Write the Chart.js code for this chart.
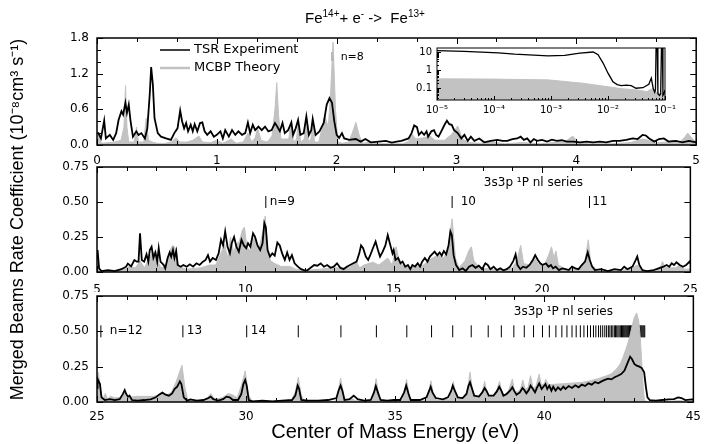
<!DOCTYPE html>
<html lang="en">
<head>
<meta charset="UTF-8">
<title>Fe14+ DR rate coefficient</title>
<script src="https://cdn.jsdelivr.net/npm/chart.js@4.4.1/dist/chart.umd.min.js"></script>
<style>
    body { margin: 0; background: #fff; }
    #wrap { position: relative; width: 709px; height: 444px; overflow: hidden; }
    #wrap canvas { position: absolute; left: 0; top: 0; }
    #title {
        position: absolute; left: 305px; top: 9px; white-space: nowrap;
        font: 15px "Liberation Sans", Arial, sans-serif; line-height: 18px; color: #000;
    }
    #title sup { font-size: 10px; vertical-align: 0; position: relative; top: -6px; }
</style>
</head>
<body>
<div id="wrap">
    <canvas id="c1" width="709" height="444"></canvas>
    <canvas id="c2" width="709" height="444"></canvas>
    <canvas id="c3" width="709" height="444"></canvas>
    <canvas id="c4" width="709" height="444"></canvas>
    <div id="title">Fe<sup>14+</sup>+ e<sup>-</sup> -&gt;&nbsp; Fe<sup>13+</sup></div>
</div>
<script>
// ---- data: [energy (eV), rate (1e-8 cm3/s)] ----
const expTop = [[0,0.2],[0.011,0.2],[0.033,0.11],[0.06,0.41],[0.074,0.11],[0.107,0.17],[0.135,0.085],[0.16,0.2],[0.18,0.42],[0.204,0.57],[0.218,0.51],[0.237,0.71],[0.25,0.54],[0.265,0.68],[0.28,0.40],[0.30,0.14],[0.328,0.23],[0.347,0.17],[0.37,0.2],[0.40,0.11],[0.42,0.28],[0.44,0.85],[0.452,1.31],[0.466,1.02],[0.48,0.45],[0.507,0.2],[0.534,0.14],[0.576,0.11],[0.617,0.085],[0.645,0.2],[0.672,0.28],[0.694,0.58],[0.71,0.4],[0.727,0.28],[0.744,0.37],[0.76,0.23],[0.782,0.34],[0.799,0.23],[0.815,0.35],[0.837,0.23],[0.86,0.37],[0.879,0.38],[0.898,0.23],[0.92,0.17],[0.948,0.23],[0.975,0.14],[1.0,0.17],[1.03,0.23],[1.05,0.11],[1.07,0.25],[1.1,0.14],[1.127,0.25],[1.154,0.17],[1.18,0.23],[1.21,0.17],[1.237,0.2],[1.259,0.38],[1.278,0.2],[1.3,0.34],[1.32,0.25],[1.347,0.31],[1.375,0.25],[1.402,0.31],[1.43,0.23],[1.457,0.25],[1.485,0.37],[1.504,0.31],[1.526,0.23],[1.548,0.37],[1.567,0.2],[1.595,0.25],[1.622,0.38],[1.636,0.17],[1.658,0.28],[1.678,0.42],[1.697,0.17],[1.725,0.2],[1.747,0.48],[1.768,0.17],[1.788,0.25],[1.8,0.44],[1.824,0.17],[1.856,0.23],[1.892,0.37],[1.917,0.68],[1.94,0.79],[1.961,0.71],[1.98,0.4],[2.0,0.17],[2.02,0.12],[2.044,0.2],[2.063,0.11],[2.105,0.085],[2.16,0.1],[2.2,0.057],[2.24,0.1],[2.284,0.045],[2.35,0.057],[2.41,0.07],[2.46,0.04],[2.5,0.057],[2.54,0.07],[2.6,0.11],[2.625,0.2],[2.647,0.33],[2.67,0.30],[2.686,0.17],[2.708,0.22],[2.73,0.17],[2.75,0.23],[2.763,0.14],[2.79,0.23],[2.812,0.25],[2.83,0.17],[2.85,0.14],[2.873,0.23],[2.9,0.34],[2.92,0.41],[2.94,0.35],[2.96,0.34],[2.98,0.25],[3.01,0.2],[3.04,0.11],[3.066,0.17],[3.094,0.07],[3.12,0.14],[3.149,0.07],[3.19,0.11],[3.231,0.045],[3.286,0.07],[3.341,0.085],[3.383,0.07],[3.424,0.07],[3.466,0.1],[3.507,0.11],[3.535,0.14],[3.562,0.085],[3.59,0.11],[3.617,0.045],[3.645,0.1],[3.672,0.07],[3.713,0.085],[3.755,0.057],[3.796,0.09],[3.838,0.07],[3.879,0.08],[3.92,0.057],[3.975,0.057],[4.03,0.045],[4.086,0.057],[4.14,0.045],[4.196,0.057],[4.25,0.045],[4.306,0.07],[4.36,0.07],[4.416,0.085],[4.47,0.11],[4.512,0.1],[4.553,0.17],[4.58,0.16],[4.608,0.11],[4.65,0.057],[4.69,0.1],[4.73,0.11],[4.77,0.057],[4.83,0.07],[4.884,0.045],[4.94,0.07],[5.0,0.045]];

const theoTop = [[0,0.05],[0.015,0.22],[0.03,0.05],[0.05,0.03],[0.1,0.04],[0.15,0.05],[0.2,0.08],[0.225,0.3],[0.238,1.0],[0.25,0.3],[0.265,0.05],[0.31,0.05],[0.33,0.3],[0.345,0.05],[0.39,0.05],[0.41,0.45],[0.43,0.08],[0.46,0.05],[0.5,0.03],[0.55,0.02],[0.62,0.05],[0.66,0.12],[0.69,0.05],[0.75,0.05],[0.8,0.08],[0.85,0.15],[0.88,0.05],[0.95,0.04],[1.0,0.08],[1.05,0.03],[1.12,0.1],[1.16,0.03],[1.22,0.05],[1.26,0.2],[1.29,0.05],[1.32,0.12],[1.34,0.28],[1.37,0.08],[1.42,0.05],[1.46,0.15],[1.485,0.6],[1.5,1.05],[1.515,0.5],[1.535,0.1],[1.56,0.1],[1.6,0.1],[1.62,0.38],[1.64,0.05],[1.665,0.1],[1.68,0.38],[1.7,0.05],[1.73,0.1],[1.748,0.5],[1.765,0.05],[1.785,0.1],[1.8,0.42],[1.815,0.05],[1.85,0.05],[1.88,0.3],[1.9,0.5],[1.93,0.3],[1.95,0.9],[1.97,1.73],[1.99,0.6],[2.01,0.05],[2.05,0.03],[2.1,0.05],[2.13,0.2],[2.16,0.38],[2.19,0.15],[2.22,0.03],[2.3,0.05],[2.35,0.02],[2.45,0.02],[2.55,0.02],[2.6,0.06],[2.63,0.18],[2.66,0.1],[2.72,0.12],[2.78,0.15],[2.82,0.08],[2.9,0.08],[2.96,0.18],[3.01,0.32],[3.05,0.1],[3.1,0.04],[3.2,0.03],[3.3,0.05],[3.4,0.02],[3.55,0.04],[3.7,0.02],[3.8,0.04],[3.9,0.05],[3.97,0.15],[4.02,0.04],[4.1,0.02],[4.3,0.02],[4.45,0.04],[4.55,0.1],[4.6,0.08],[4.65,0.03],[4.75,0.05],[4.8,0.08],[4.85,0.03],[4.9,0.12],[4.93,0.2],[4.97,0.1],[5.0,0.05]];

const expMid = [[5.0,0.1],[5.02,0.157],[5.07,0.026],[5.15,0.007],[5.37,0.014],[5.6,0.007],[5.82,0.02],[5.98,0.038],[6.04,0.06],[6.15,0.04],[6.26,0.085],[6.34,0.074],[6.4,0.074],[6.45,0.276],[6.51,0.085],[6.59,0.074],[6.67,0.126],[6.73,0.074],[6.78,0.157],[6.84,0.18],[6.9,0.1],[6.97,0.14],[7.03,0.074],[7.08,0.17],[7.14,0.074],[7.25,0.05],[7.3,0.026],[7.38,0.1],[7.45,0.14],[7.5,0.11],[7.56,0.157],[7.61,0.1],[7.67,0.15],[7.72,0.05],[7.82,0.038],[7.91,0.05],[8.02,0.038],[8.13,0.055],[8.24,0.038],[8.35,0.062],[8.46,0.05],[8.57,0.074],[8.66,0.086],[8.74,0.12],[8.81,0.074],[8.9,0.1],[9.01,0.086],[9.1,0.133],[9.18,0.23],[9.25,0.19],[9.32,0.29],[9.4,0.18],[9.48,0.133],[9.54,0.205],[9.62,0.25],[9.7,0.18],[9.78,0.145],[9.87,0.23],[9.95,0.19],[10.03,0.17],[10.09,0.205],[10.17,0.18],[10.26,0.276],[10.33,0.25],[10.41,0.19],[10.5,0.157],[10.58,0.205],[10.64,0.35],[10.69,0.32],[10.75,0.157],[10.83,0.11],[10.91,0.133],[10.99,0.117],[11.08,0.21],[11.16,0.19],[11.24,0.133],[11.33,0.086],[11.41,0.14],[11.49,0.086],[11.57,0.12],[11.66,0.062],[11.77,0.038],[11.88,0.02],[11.99,0.012],[12.1,0.014],[12.2,0.03],[12.32,0.05],[12.43,0.045],[12.54,0.062],[12.65,0.038],[12.76,0.05],[12.87,0.03],[12.98,0.038],[13.09,0.062],[13.2,0.03],[13.31,0.02],[13.42,0.038],[13.53,0.05],[13.64,0.062],[13.75,0.074],[13.84,0.133],[13.9,0.19],[13.97,0.17],[14.06,0.11],[14.14,0.086],[14.21,0.12],[14.3,0.17],[14.39,0.217],[14.47,0.157],[14.54,0.11],[14.63,0.145],[14.72,0.19],[14.8,0.264],[14.87,0.205],[14.96,0.133],[15.0,0.157],[15.06,0.086],[15.15,0.1],[15.23,0.062],[15.3,0.074],[15.39,0.038],[15.48,0.05],[15.56,0.02],[15.63,0.05],[15.72,0.038],[15.81,0.062],[15.89,0.038],[15.96,0.074],[16.05,0.1],[16.14,0.074],[16.22,0.11],[16.29,0.126],[16.38,0.145],[16.47,0.12],[16.55,0.14],[16.62,0.117],[16.69,0.15],[16.77,0.126],[16.85,0.19],[16.91,0.29],[16.96,0.264],[17.02,0.12],[17.1,0.05],[17.21,0.014],[17.32,0.026],[17.43,0.007],[17.54,0.038],[17.65,0.05],[17.76,0.03],[17.87,0.045],[17.98,0.02],[18.09,0.062],[18.17,0.05],[18.26,0.02],[18.37,0.038],[18.48,0.014],[18.59,0.026],[18.7,0.012],[18.81,0.02],[18.92,0.038],[19.03,0.078],[19.11,0.126],[19.17,0.05],[19.27,0.02],[19.36,0.038],[19.47,0.03],[19.58,0.05],[19.69,0.086],[19.77,0.12],[19.86,0.086],[19.94,0.062],[20.02,0.05],[20.13,0.062],[20.22,0.038],[20.3,0.05],[20.37,0.026],[20.46,0.038],[20.57,0.014],[20.68,0.026],[20.79,0.02],[20.9,0.014],[21.01,0.038],[21.12,0.026],[21.23,0.02],[21.34,0.05],[21.45,0.074],[21.54,0.14],[21.61,0.086],[21.69,0.038],[21.78,0.014],[22.0,0.02],[22.22,0.007],[22.44,0.02],[22.66,0.014],[22.77,0.038],[22.88,0.02],[23.05,0.038],[23.16,0.086],[23.21,0.11],[23.28,0.05],[23.38,0.014],[23.54,0.007],[23.76,0.014],[23.93,0.026],[24.09,0.038],[24.2,0.05],[24.29,0.038],[24.37,0.062],[24.45,0.05],[24.53,0.07],[24.64,0.05],[24.75,0.038],[24.86,0.05],[24.97,0.074],[25.0,0.06]];

const theoMid = [[5,0.02],[5.05,0.06],[5.1,0.01],[5.5,0.01],[5.9,0.02],[6.1,0.04],[6.3,0.03],[6.45,0.08],[6.6,0.03],[6.8,0.12],[6.95,0.15],[7.05,0.08],[7.15,0.03],[7.3,0.04],[7.45,0.15],[7.55,0.19],[7.65,0.17],[7.75,0.04],[8.0,0.02],[8.5,0.03],[8.8,0.05],[9.0,0.05],[9.15,0.12],[9.3,0.2],[9.4,0.1],[9.5,0.25],[9.6,0.14],[9.7,0.2],[9.8,0.22],[9.9,0.3],[9.97,0.32],[10.05,0.18],[10.15,0.15],[10.25,0.22],[10.33,0.26],[10.42,0.15],[10.5,0.2],[10.6,0.3],[10.67,0.4],[10.75,0.15],[10.85,0.08],[11.0,0.06],[11.2,0.04],[11.5,0.04],[11.7,0.02],[12.0,0.01],[12.5,0.02],[13.0,0.03],[13.5,0.03],[13.75,0.07],[13.85,0.03],[14.0,0.05],[14.3,0.07],[14.5,0.05],[14.8,0.1],[14.95,0.05],[15.08,0.18],[15.2,0.06],[15.5,0.03],[15.8,0.04],[16.0,0.05],[16.3,0.1],[16.5,0.12],[16.7,0.1],[16.85,0.2],[16.97,0.38],[17.08,0.1],[17.2,0.03],[17.4,0.08],[17.55,0.16],[17.62,0.18],[17.7,0.08],[17.9,0.03],[18.3,0.02],[18.7,0.01],[19.0,0.03],[19.15,0.08],[19.28,0.19],[19.38,0.06],[19.6,0.05],[19.75,0.1],[19.9,0.05],[20.1,0.06],[20.22,0.12],[20.32,0.18],[20.4,0.1],[20.47,0.15],[20.55,0.05],[20.8,0.02],[21.2,0.02],[21.45,0.08],[21.56,0.23],[21.65,0.05],[21.9,0.01],[22.5,0.01],[23.0,0.02],[23.2,0.05],[23.4,0.01],[23.8,0.01],[24.0,0.04],[24.06,0.075],[24.15,0.03],[24.5,0.03],[24.65,0.05],[24.8,0.02],[25,0.02]];

const expLow = [[25.0,0.1],[25.02,0.163],[25.1,0.127],[25.15,0.033],[25.26,0.014],[25.43,0.02],[25.6,0.014],[25.76,0.02],[25.87,0.057],[25.93,0.085],[25.98,0.057],[26.04,0.038],[26.09,0.045],[26.17,0.014],[26.37,0.01],[26.59,0.014],[26.8,0.019],[26.97,0.033],[27.08,0.052],[27.19,0.066],[27.3,0.052],[27.41,0.045],[27.52,0.061],[27.6,0.092],[27.69,0.108],[27.78,0.146],[27.83,0.127],[27.91,0.033],[28.02,0.01],[28.13,0.019],[28.35,0.01],[28.57,0.014],[28.74,0.028],[28.81,0.038],[28.9,0.02],[29.07,0.01],[29.23,0.02],[29.34,0.038],[29.45,0.033],[29.56,0.014],[29.73,0.014],[29.84,0.057],[29.91,0.127],[29.97,0.156],[30.02,0.116],[30.09,0.014],[30.22,0.005],[30.55,0.01],[30.88,0.005],[31.21,0.01],[31.54,0.014],[31.65,0.045],[31.73,0.116],[31.78,0.092],[31.85,0.014],[32.09,0.01],[32.42,0.01],[32.75,0.014],[33.03,0.028],[33.1,0.08],[33.17,0.116],[33.23,0.08],[33.3,0.014],[33.47,0.02],[33.61,0.045],[33.74,0.02],[33.96,0.01],[34.18,0.014],[34.29,0.068],[34.35,0.113],[34.42,0.068],[34.51,0.014],[34.73,0.01],[34.95,0.014],[35.17,0.014],[35.3,0.068],[35.37,0.116],[35.45,0.057],[35.52,0.014],[35.83,0.014],[36.05,0.033],[36.14,0.08],[36.19,0.108],[36.25,0.068],[36.36,0.028],[36.6,0.019],[36.77,0.033],[36.88,0.08],[36.93,0.116],[37.0,0.08],[37.1,0.033],[37.26,0.028],[37.39,0.057],[37.46,0.116],[37.51,0.139],[37.57,0.099],[37.65,0.045],[37.81,0.038],[37.92,0.068],[38.0,0.099],[38.06,0.08],[38.14,0.045],[38.3,0.045],[38.41,0.075],[38.49,0.108],[38.56,0.08],[38.63,0.045],[38.74,0.057],[38.85,0.08],[38.93,0.104],[39.0,0.075],[39.07,0.052],[39.18,0.068],[39.27,0.099],[39.33,0.085],[39.4,0.061],[39.48,0.085],[39.54,0.116],[39.62,0.092],[39.69,0.068],[39.76,0.104],[39.83,0.132],[39.91,0.092],[39.97,0.108],[40.04,0.127],[40.1,0.092],[40.17,0.116],[40.24,0.08],[40.3,0.108],[40.38,0.08],[40.46,0.104],[40.55,0.085],[40.64,0.108],[40.71,0.092],[40.82,0.113],[40.93,0.099],[41.04,0.118],[41.15,0.104],[41.26,0.123],[41.37,0.113],[41.48,0.132],[41.59,0.123],[41.7,0.142],[41.81,0.132],[41.92,0.146],[42.03,0.156],[42.14,0.165],[42.25,0.16],[42.36,0.175],[42.47,0.186],[42.58,0.198],[42.69,0.222],[42.77,0.264],[42.88,0.32],[42.94,0.304],[43.02,0.269],[43.1,0.257],[43.19,0.25],[43.27,0.24],[43.35,0.21],[43.41,0.104],[43.46,0.033],[43.54,0.014],[43.74,0.01],[43.96,0.014],[44.18,0.019],[44.35,0.02],[44.49,0.033],[44.6,0.028],[44.73,0.014],[44.95,0.019],[45,0.015]];

const theoLow = [[25.0,0.1],[25.05,0.21],[25.12,0.08],[25.2,0.02],[25.28,0.06],[25.35,0.02],[25.45,0.04],[25.6,0.03],[25.8,0.03],[25.92,0.08],[26.02,0.03],[26.3,0.04],[26.6,0.04],[26.9,0.04],[27.1,0.05],[27.2,0.07],[27.35,0.05],[27.5,0.07],[27.65,0.14],[27.85,0.26],[27.95,0.1],[28.05,0.01],[28.5,0.01],[28.7,0.03],[28.82,0.06],[28.95,0.02],[29.2,0.03],[29.4,0.06],[29.55,0.05],[29.7,0.03],[29.85,0.12],[29.97,0.22],[30.08,0.05],[30.2,0.005],[31.5,0.005],[31.65,0.07],[31.75,0.175],[31.85,0.05],[31.95,0.005],[33.0,0.005],[33.08,0.07],[33.17,0.17],[33.27,0.05],[33.35,0.01],[33.55,0.03],[33.65,0.01],[34.2,0.005],[34.28,0.07],[34.36,0.165],[34.45,0.05],[34.55,0.005],[35.25,0.01],[35.3,0.07],[35.38,0.16],[35.47,0.05],[35.55,0.005],[36.05,0.01],[36.12,0.07],[36.2,0.15],[36.28,0.05],[36.4,0.01],[36.82,0.02],[36.88,0.07],[36.95,0.146],[37.03,0.05],[37.12,0.02],[37.38,0.04],[37.45,0.12],[37.51,0.21],[37.58,0.1],[37.68,0.03],[37.9,0.05],[38.0,0.146],[38.08,0.06],[38.2,0.04],[38.3,0.05],[38.4,0.08],[38.5,0.146],[38.58,0.07],[38.68,0.05],[38.8,0.08],[38.93,0.163],[39.0,0.08],[39.1,0.07],[39.2,0.09],[39.28,0.156],[39.36,0.09],[39.45,0.1],[39.54,0.186],[39.62,0.1],[39.72,0.11],[39.83,0.198],[39.9,0.12],[40.0,0.13],[40.05,0.16],[40.15,0.12],[40.3,0.125],[40.46,0.127],[40.7,0.13],[41.0,0.135],[41.3,0.14],[41.54,0.15],[41.8,0.165],[42.09,0.186],[42.25,0.2],[42.42,0.233],[42.55,0.27],[42.64,0.316],[42.75,0.38],[42.86,0.457],[42.95,0.54],[43.02,0.6],[43.1,0.63],[43.17,0.57],[43.22,0.45],[43.27,0.28],[43.32,0.1],[43.36,0.01],[43.5,0.0],[44.0,0.0],[44.5,0.01],[45,0.0]];

// inset, log-log: [energy (eV), rate]
const insetExp = [[1e-5,12],[3e-5,11],[6e-5,10],[1.2e-4,9],[2.3e-4,7.7],[5e-4,6.8],[8.85e-4,6.2],[1.74e-3,6.5],[3.2e-3,8.8],[5.5e-3,10],[6.7e-3,7.1],[8.2e-3,2.45],[1.0e-2,0.68],[1.22e-2,0.23],[1.45e-2,0.16],[1.7e-2,0.14],[2.1e-2,0.15],[2.55e-2,0.14],[3.1e-2,0.1],[4.1e-2,0.107],[5.2e-2,0.165],[5.75e-2,0.36],[6.2e-2,0.1],[6.6e-2,0.06],[6.8e-2,0.08],[7.0e-2,40],[7.3e-2,40],[7.5e-2,0.05],[8.0e-2,0.04],[8.4e-2,0.05],[8.7e-2,40],[9.0e-2,40],[9.2e-2,0.04],[9.6e-2,0.05],[1.0e-1,0.08]];
const insetTheo = [[1e-5,0.33],[1e-4,0.32],[8.85e-4,0.29],[3.6e-3,0.19],[1.8e-2,0.093],[3.3e-2,0.08],[4.8e-2,0.065],[6.2e-2,0.1],[7e-2,0.06],[8.5e-2,0.05],[0.1,0.045]];

// 3s3p 1P nl series limits (eV)
const markTop = [1.967];
const markMid = [10.69, 16.97, 21.6];
const markLow = [25.13, 27.88, 30.02, 31.75, 33.18, 34.37, 35.39, 36.22, 36.93, 37.55, 38.12, 38.56, 38.98, 39.33, 39.64, 39.94, 40.17, 40.39, 40.59, 40.76, 40.93, 41.07, 41.21, 41.33, 41.45, 41.55, 41.65, 41.73, 41.82, 41.89, 41.96, 42.03, 42.09, 42.15, 42.2, 42.25, 42.3, 42.35, 42.39, 42.43, 42.47, 42.51, 42.55, 42.59, 42.62, 42.65, 42.68, 42.71, 42.74, 42.77, 42.8, 42.83, 42.86, 42.89, 42.92, 42.95, 42.98, 43.01, 43.04, 43.07, 43.1, 43.13, 43.16, 43.19, 43.22, 43.25, 43.28, 43.31, 43.34, 43.37];

// tick labels
const xTicksTop = [0, 1, 2, 3, 4, 5];
const xTicksMid = [5, 10, 15, 20, 25];
const xTicksLow = [25, 30, 35, 40, 45];
const yTicksTop = [0, 0.6, 1.2, 1.8];
const yTicksLow = [0, 0.25, 0.5, 0.75];
const insetXTicks = [1e-5, 1e-4, 1e-3, 1e-2, 1e-1];
const insetXLabels = ['10⁻⁵', '10⁻⁴', '10⁻³', '10⁻²', '10⁻¹'];
const insetYTicks = [0.1, 1, 10];

const W = 709, H = 444;
const GREY = '#c2c2c2';
const FONT = '"DejaVu Sans", sans-serif';
const SANS = '"Liberation Sans", Arial, sans-serif';

const pts = arr => arr.map(([x, y]) => ({x, y}));

function steps(lo, hi, st) {
    const out = [];
    for (let v = lo; v <= hi + 1e-9; v += st) out.push(+v.toFixed(6));
    return out;
}
function logMinor(lo, hi) {
    const out = [];
    for (let e = -6; e <= 2; e++)
        for (let m = 2; m <= 9; m++) {
            const v = m * Math.pow(10, e);
            if (v > lo && v < hi) out.push(v);
        }
    return out;
}

// frame, inward ticks, notes and legend drawn over the plot
const framePlugin = {
    id: 'frame',
    afterDatasetsDraw(chart, args, o) {
        const {ctx, chartArea: a} = chart;
        const sx = chart.scales.x, sy = chart.scales.y;
        ctx.save();
        ctx.strokeStyle = '#000';
        ctx.lineWidth = 1;
        ctx.beginPath();
        const vTicks = (vals, len) => vals.forEach(v => {
            const px = Math.round(sx.getPixelForValue(v)) + 0.5;
            ctx.moveTo(px, a.bottom); ctx.lineTo(px, a.bottom - len);
            if (o.mirror) { ctx.moveTo(px, a.top); ctx.lineTo(px, a.top + len); }
        });
        const hTicks = (vals, len) => vals.forEach(v => {
            const py = Math.round(sy.getPixelForValue(v)) + 0.5;
            ctx.moveTo(a.left, py); ctx.lineTo(a.left + len, py);
            if (o.mirror) { ctx.moveTo(a.right, py); ctx.lineTo(a.right - len, py); }
        });
        vTicks(o.xMajor, o.major); vTicks(o.xMinor, o.minor);
        hTicks(o.yMajor, o.major); hTicks(o.yMinor, o.minor);
        ctx.stroke();
        ctx.lineWidth = o.border;
        ctx.strokeRect(a.left, a.top, a.right - a.left, a.bottom - a.top);

        ctx.fillStyle = '#000';
        ctx.textBaseline = 'middle';
        (o.notes || []).forEach(n => {
            ctx.font = (n.size || 12) + 'px ' + FONT;
            ctx.textAlign = n.align || 'left';
            ctx.fillText(n.text, sx.getPixelForValue(n.x), sy.getPixelForValue(n.y));
        });
        (o.legend || []).forEach(l => {
            ctx.strokeStyle = l.color;
            ctx.lineWidth = l.width;
            ctx.beginPath();
            ctx.moveTo(a.left + l.x0, a.top + l.y);
            ctx.lineTo(a.left + l.x1, a.top + l.y);
            ctx.stroke();
            ctx.font = '13px ' + FONT;
            ctx.textAlign = 'left';
            ctx.fillText(l.text, a.left + l.x1 + 4, a.top + l.y);
        });
        ctx.restore();
    }
};

function panel(id, p) {
    const tickFont = {family: FONT, size: 12};
    return new Chart(document.getElementById(id), {
        type: 'line',
        data: {
            datasets: [
                {data: pts(p.exp), borderColor: '#000', borderWidth: 1.8, pointRadius: 0, fill: false},
                {data: pts(p.theo), borderColor: GREY, backgroundColor: GREY, borderWidth: 1, pointRadius: 0, fill: 'origin'},
                {data: p.marks.map(x => ({x, y: p.markY})), showLine: false, pointStyle: 'line', pointRotation: 90,
                 pointRadius: p.markHalf, pointBorderColor: '#000', pointBorderWidth: p.markWidth}
            ]
        },
        options: {
            responsive: false, animation: false, events: [],
            layout: {padding: {left: 0, top: p.top, right: W - 702, bottom: H - p.bottom - p.xh}},
            plugins: {
                legend: {display: false}, tooltip: {enabled: false},
                frame: {xMajor: p.xTicks, xMinor: p.xMinor, yMajor: p.yTicks, yMinor: p.yMinor,
                        major: 6, minor: 4, border: 1.5, mirror: true, notes: p.notes, legend: p.legend}
            },
            scales: {
                x: {
                    type: 'linear', min: p.xTicks[0], max: p.xTicks[p.xTicks.length - 1],
                    afterFit(s) { s.height = p.xh; },
                    afterBuildTicks(s) { s.ticks = p.xTicks.map(v => ({value: v})); },
                    grid: {display: false, drawTicks: false}, border: {display: false},
                    ticks: {padding: p.xpad, color: '#000', font: tickFont, maxRotation: 0, autoSkip: false,
                            callback: v => String(v)},
                    title: p.xTitle ? {display: true, text: p.xTitle, color: '#000',
                                       font: {family: SANS, size: 20}, padding: {top: 0, bottom: 0}} : {display: false}
                },
                y: {
                    min: p.yTicks[0], max: p.yTicks[p.yTicks.length - 1],
                    afterFit(s) { s.width = 97; },
                    afterBuildTicks(s) { s.ticks = p.yTicks.map(v => ({value: v})); },
                    grid: {display: false, drawTicks: false}, border: {display: false},
                    ticks: {padding: 8, color: '#000', font: tickFont, autoSkip: false,
                            callback: v => v.toFixed(p.yDigits)},
                    title: p.yTitle ? {display: true, text: p.yTitle, color: '#000',
                                       font: {family: SANS, size: 18}, padding: {top: 7, bottom: 0}} : {display: false}
                }
            }
        },
        plugins: [framePlugin]
    });
}

panel('c1', {
    exp: expTop, theo: theoTop, marks: markTop, markY: 1.49, markHalf: 4.5, markWidth: 2,
    top: 38, bottom: 145, xh: 20, xpad: 9,
    xTicks: xTicksTop, xMinor: steps(0, 5, 1 / 3), yTicks: yTicksTop, yMinor: steps(0, 1.8, 0.2), yDigits: 1,
    notes: [{x: 2.033, y: 1.48, text: 'n=8', size: 11}],
    legend: [{text: 'TSR Experiment', color: '#000', width: 1.5, x0: 63, x1: 93, y: 12},
             {text: 'MCBP Theory', color: GREY, width: 2.5, x0: 63, x1: 93, y: 30}]
});

panel('c2', {
    exp: expMid, theo: theoMid, marks: markMid, markY: 0.5, markHalf: 6, markWidth: 1,
    top: 167, bottom: 272, xh: 20, xpad: 11,
    xTicks: xTicksMid, xMinor: steps(5, 25, 1), yTicks: yTicksLow, yMinor: [], yDigits: 2,
    yTitle: 'Merged Beams Rate Coefficient (10⁻⁸cm³ s⁻¹)',
    notes: [{x: 10.82, y: 0.5, text: 'n=9'}, {x: 17.26, y: 0.5, text: '10'}, {x: 21.69, y: 0.5, text: '11'},
            {x: 19.71, y: 0.636, text: '3s3p ¹P nl series', align: 'center'}]
});

panel('c3', {
    exp: expLow, theo: theoLow, marks: markLow, markY: 0.5, markHalf: 6, markWidth: 1,
    top: 296, bottom: 402, xh: 42, xpad: 8,
    xTicks: xTicksLow, xMinor: steps(25, 45, 1), yTicks: yTicksLow, yMinor: [], yDigits: 2,
    xTitle: 'Center of Mass Energy (eV)',
    notes: [{x: 25.43, y: 0.5, text: 'n=12'}, {x: 28.01, y: 0.5, text: '13'}, {x: 30.16, y: 0.5, text: '14'},
            {x: 40.64, y: 0.637, text: '3s3p ¹P nl series', align: 'center'}]
});

// inset: low-energy part on log-log axes
const insetFont = {family: FONT, size: 10};
new Chart(document.getElementById('c4'), {
    type: 'line',
    data: {
        datasets: [
            {data: pts(insetExp), borderColor: '#000', borderWidth: 1.3, pointRadius: 0, fill: false},
            {data: pts(insetTheo), borderColor: GREY, backgroundColor: GREY, borderWidth: 1, pointRadius: 0, fill: 'start'}
        ]
    },
    options: {
        responsive: false, animation: false, events: [],
        layout: {padding: {left: 437 - 30, top: 48, right: W - 665, bottom: H - 100 - 20}},
        plugins: {
            legend: {display: false}, tooltip: {enabled: false},
            frame: {xMajor: insetXTicks, xMinor: logMinor(1e-5, 0.1), yMajor: insetYTicks, yMinor: logMinor(0.0224, 16.7),
                    major: 4, minor: 2, border: 1, mirror: false}
        },
        scales: {
            x: {
                type: 'logarithmic', min: 1e-5, max: 0.1,
                afterFit(s) { s.height = 20; },
                afterBuildTicks(s) { s.ticks = insetXTicks.map(v => ({value: v})); },
                grid: {display: false, drawTicks: false}, border: {display: false},
                ticks: {padding: 4, color: '#000', font: insetFont, maxRotation: 0, autoSkip: false,
                        callback: (v, i) => insetXLabels[i]}
            },
            y: {
                type: 'logarithmic', min: 0.0224, max: 16.7,
                afterFit(s) { s.width = 30; },
                afterBuildTicks(s) { s.ticks = insetYTicks.map(v => ({value: v})); },
                grid: {display: false, drawTicks: false}, border: {display: false},
                ticks: {padding: 5, color: '#000', font: insetFont, autoSkip: false,
                        callback: v => String(v)}
            }
        }
    },
    plugins: [framePlugin]
});
</script>
</body>
</html>
